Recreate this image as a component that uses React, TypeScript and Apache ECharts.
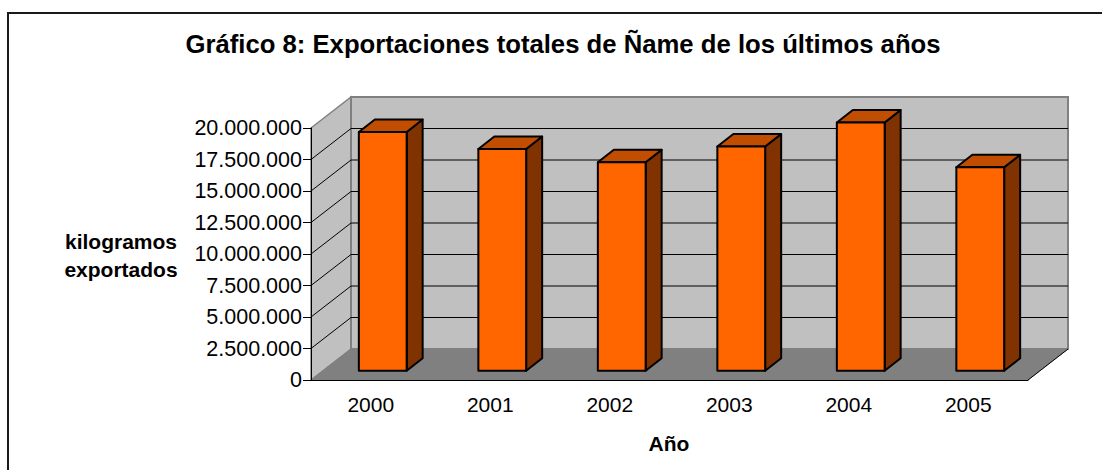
import React, { useEffect, useRef } from "react";
import * as echarts from "echarts";

const TITLE = "Gráfico 8: Exportaciones totales de Ñame de los últimos años";
const Y_NAME = "kilogramos\nexportados";
const X_NAME = "Año";
const YEARS = ["2000", "2001", "2002", "2003", "2004", "2005"];
const EXPORTS_KG = [18950000, 17600000, 16550000, 17800000, 19700000, 16150000];
const Y_TICKS = [0, 2500000, 5000000, 7500000, 10000000, 12500000, 15000000, 17500000, 20000000];

const FONT = "'Liberation Sans', Arial, sans-serif";
const DX = 40;
const DY = -31;
const BAR_FRONT = 0.3;
const BAR_DEPTH = 0.4;
const BAR_W = 0.4;

function fmt(v: number) {
  return String(v).replace(/\B(?=(\d{3})+(?!\d))/g, ".");
}

export default function App() {
  const ref = useRef<HTMLDivElement>(null);
  useEffect(() => {
    document.body.style.margin = "0";
    const chart = echarts.init(ref.current!, null, { renderer: "svg" });
    const yMin = Y_TICKS[0];
    const yMax = Y_TICKS[Y_TICKS.length - 1];
    const yStep = Y_TICKS[1] - Y_TICKS[0];

    const wallsRender = (params: any, api: any) => {
      const cs = params.coordSys;
      const x = cs.x, y = cs.y, w = cs.width, h = cs.height;
      const children: any[] = [];
      children.push({
        type: "polygon",
        shape: { points: [[x, y], [x + DX, y + DY], [x + DX, y + h + DY], [x, y + h]] },
        style: { fill: "#c0c0c0", stroke: "#808080", lineWidth: 1.5 },
      });
      children.push({
        type: "rect",
        shape: { x: x + DX, y: y + DY, width: w, height: h },
        style: { fill: "#c0c0c0", stroke: "#808080", lineWidth: 2 },
      });
      children.push({
        type: "polygon",
        shape: { points: [[x, y + h], [x + DX, y + h + DY], [x + w + DX, y + h + DY], [x + w, y + h]] },
        style: { fill: "#808080", stroke: "#808080", lineWidth: 1 },
      });
      children.push({
        type: "line",
        shape: { x1: x + w, y1: y + h, x2: x + w + DX, y2: y + h + DY },
        style: { stroke: "#000", lineWidth: 1 },
      });
      for (let k = 1; k < Y_TICKS.length - 1; k++) {
        const yf = api.coord([0, Y_TICKS[k]])[1];
        children.push({
          type: "polyline",
          shape: { points: [[x, yf], [x + DX, yf + DY], [x + w + DX, yf + DY]] },
          style: { stroke: "#000", lineWidth: 1, fill: "none" },
        });
      }
      return { type: "group", children };
    };

    const barRender = (params: any, api: any) => {
      const i = api.value(0);
      const v = api.value(1);
      const top = api.coord([i, v]);
      const base = api.coord([i, 0]);
      const band = api.size([1, 0])[0];
      const w = band * BAR_W;
      const fx = top[0] - w / 2 + DX * BAR_FRONT;
      const fy0 = base[1] + DY * BAR_FRONT;
      const fyT = top[1] + DY * BAR_FRONT;
      const ddx = DX * BAR_DEPTH;
      const ddy = DY * BAR_DEPTH;
      const st = { stroke: "#000", lineWidth: 2, lineJoin: "round" };
      return {
        type: "group",
        children: [
          {
            type: "polygon",
            shape: { points: [[fx + w, fyT], [fx + w + ddx, fyT + ddy], [fx + w + ddx, fy0 + ddy], [fx + w, fy0]] },
            style: { ...st, fill: "#803300" },
          },
          {
            type: "polygon",
            shape: { points: [[fx, fyT], [fx + ddx, fyT + ddy], [fx + w + ddx, fyT + ddy], [fx + w, fyT]] },
            style: { ...st, fill: "#c04d00" },
          },
          {
            type: "rect",
            shape: { x: fx, y: fyT, width: w, height: fy0 - fyT },
            style: { ...st, fill: "#ff6600" },
          },
        ],
      };
    };

    chart.setOption({
      animation: false,
      grid: { left: 311, right: 74, top: 128, bottom: 90 },
      xAxis: {
        type: "category",
        data: YEARS,
        z: 10,
        axisLine: { lineStyle: { color: "#000", width: 1 } },
        axisTick: { length: 6, lineStyle: { color: "#000" } },
        axisLabel: { color: "#000", fontSize: 21, fontFamily: FONT, margin: 14 },
        splitLine: { show: false },
      },
      yAxis: {
        type: "value",
        min: yMin,
        max: yMax,
        interval: yStep,
        z: 10,
        axisLine: { show: true, lineStyle: { color: "#000" } },
        axisTick: { show: true, length: 8, lineStyle: { color: "#000" } },
        axisLabel: { color: "#000", fontSize: 21.5, fontFamily: FONT, margin: 9, formatter: fmt },
        splitLine: { show: false },
      },
      graphic: [
        {
          type: "rect",
          z: -10,
          shape: { x: 8, y: 13, width: 1110, height: 480 },
          style: { fill: "none", stroke: "#1a1a1a", lineWidth: 2 },
        },
        {
          type: "text",
          x: 563,
          y: 44,
          style: { text: TITLE, fontSize: 25.7, fontWeight: "bold", fontFamily: FONT, fill: "#000", align: "center", verticalAlign: "middle" },
        },
        {
          type: "text",
          x: 121,
          y: 255,
          style: { text: Y_NAME, fontSize: 21, fontWeight: "bold", fontFamily: FONT, fill: "#000", align: "center", verticalAlign: "middle", lineHeight: 28 },
        },
        {
          type: "text",
          x: 669,
          y: 443,
          style: { text: X_NAME, fontSize: 21, fontWeight: "bold", fontFamily: FONT, fill: "#000", align: "center", verticalAlign: "middle" },
        },
      ],
      series: [
        { type: "custom", name: "walls", clip: false, z: 1, silent: true, data: [[0, 0]], renderItem: wallsRender },
        {
          type: "custom",
          name: "Exportaciones",
          clip: false,
          z: 3,
          data: EXPORTS_KG.map((v, i) => [i, v]),
          encode: { x: 0, y: 1 },
          renderItem: barRender,
        },
      ],
    });
    return () => chart.dispose();
  }, []);
  return <div ref={ref} style={{ width: 1102, height: 470 }} />;
}
